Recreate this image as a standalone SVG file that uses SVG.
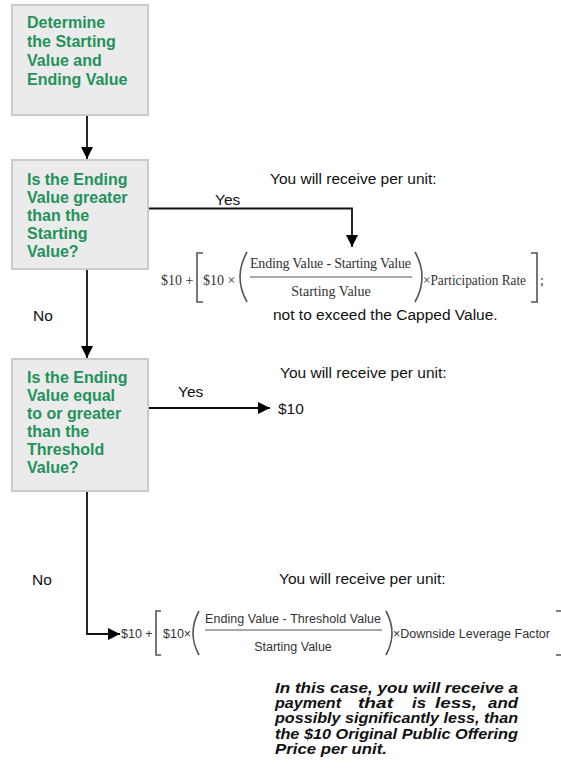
<svg xmlns="http://www.w3.org/2000/svg" width="561" height="772" viewBox="0 0 561 772">
<defs>
<marker id="ah" markerWidth="13" markerHeight="13" refX="12" refY="6.5" orient="auto" markerUnits="userSpaceOnUse">
<path d="M0,0.5 L12,6.5 L0,12.5 Z" fill="#000"/>
</marker>
<style>
.box{fill:#ebebeb;stroke:#cbcbcb;stroke-width:2}
.bt{font-family:"Liberation Sans",Arial,sans-serif;font-weight:bold;font-size:16px;fill:#23925a}
.lbl{font-family:"Liberation Sans",Arial,sans-serif;font-size:15.5px;fill:#111}
.conn{fill:none;stroke:#111;stroke-width:1.8}
.ser{font-family:"Liberation Serif","Times New Roman",serif;font-size:14px;fill:#333}
.san{font-family:"Liberation Sans",Arial,sans-serif;font-size:12.5px;fill:#333}
.br{fill:none;stroke:#555;stroke-width:1.6}
.fl{stroke:#555;stroke-width:1.2}
.it{font-family:"Liberation Sans",Arial,sans-serif;font-size:14px;font-weight:bold;font-style:italic;fill:#111}
</style>
</defs>
<rect width="561" height="772" fill="#fff"/>

<g id="connectors">
<path class="conn" d="M87,115 V159" marker-end="url(#ah)"/>
<path class="conn" d="M87,269 V358" marker-end="url(#ah)"/>
<path class="conn" d="M148,208.5 H352 V247" marker-end="url(#ah)"/>
<path class="conn" d="M148,408 H270" marker-end="url(#ah)"/>
<path class="conn" d="M87,491 V634 H120" marker-end="url(#ah)"/>
<text class="lbl" x="215" y="205">Yes</text>
<text class="lbl" x="33" y="321">No</text>
<text class="lbl" x="178" y="397">Yes</text>
<text class="lbl" x="32" y="585">No</text>
</g>

<g id="node-start">
<rect class="box" x="12" y="5" width="136" height="110"/>
<text class="bt" x="27" y="28">Determine</text>
<text class="bt" x="27" y="47">the Starting</text>
<text class="bt" x="27" y="66">Value and</text>
<text class="bt" x="27" y="85">Ending Value</text>
</g>

<g id="node-q1">
<rect class="box" x="12" y="160" width="136" height="109"/>
<text class="bt" x="27" y="185">Is the Ending</text>
<text class="bt" x="27" y="203">Value greater</text>
<text class="bt" x="27" y="221">than the</text>
<text class="bt" x="27" y="239">Starting</text>
<text class="bt" x="27" y="257">Value?</text>
</g>

<g id="node-q2">
<rect class="box" x="12" y="359" width="136" height="132"/>
<text class="bt" x="27" y="383">Is the Ending</text>
<text class="bt" x="27" y="401">Value equal</text>
<text class="bt" x="27" y="419">to or greater</text>
<text class="bt" x="27" y="437">than the</text>
<text class="bt" x="27" y="455">Threshold</text>
<text class="bt" x="27" y="473">Value?</text>
</g>

<g id="result-1">
<text class="lbl" x="270" y="184">You will receive per unit:</text>
<text class="ser" x="161" y="285">$10 +</text>
<path class="br" d="M203,253 H197 V302 H203"/>
<text class="ser" x="203" y="285">$10 ×</text>
<path class="br" d="M247,252 Q233,277 247,302"/>
<text class="ser" x="250" y="268" textLength="161" lengthAdjust="spacing">Ending  Value - Starting  Value</text>
<line class="fl" x1="250" y1="277" x2="412" y2="277"/>
<text class="ser" x="331" y="296" text-anchor="middle">Starting  Value</text>
<path class="br" d="M415,252 Q429,277 415,302"/>
<text class="ser" x="423" y="285" textLength="103" lengthAdjust="spacingAndGlyphs">×Participation Rate</text>
<path class="br" d="M531,253 H537 V302 H531"/>
<text class="ser" x="540" y="285">;</text>
<text class="lbl" x="273" y="320">not to exceed the Capped Value.</text>
</g>

<g id="result-2">
<text class="lbl" x="280" y="378">You will receive per unit:</text>
<text class="lbl" x="278" y="414">$10</text>
</g>

<g id="result-3">
<text class="lbl" x="279" y="584">You will receive per unit:</text>
<text class="san" x="121" y="638">$10 +</text>
<path class="br" d="M161,611 H156 V655 H161"/>
<text class="san" x="163" y="638">$10×</text>
<path class="br" d="M199,611 Q187,633 199,655"/>
<text class="san" x="205" y="623" textLength="176" lengthAdjust="spacing">Ending Value - Threshold Value</text>
<line class="fl" x1="205" y1="630" x2="382" y2="630"/>
<text class="san" x="293" y="651" text-anchor="middle">Starting Value</text>
<path class="br" d="M386,611 Q398,633 386,655"/>
<text class="san" x="393" y="638" textLength="157" lengthAdjust="spacingAndGlyphs">×Downside Leverage Factor</text>
<path class="br" d="M556,611 H562 V655 H556"/>
</g>

<g id="note">
<text class="it" x="275" y="693" textLength="243" lengthAdjust="spacingAndGlyphs">In this case, you will receive a</text>
<text class="it" x="275" y="708" textLength="66" lengthAdjust="spacingAndGlyphs">payment</text>
<text class="it" x="358" y="708" textLength="35" lengthAdjust="spacingAndGlyphs">that</text>
<text class="it" x="412" y="708" textLength="14" lengthAdjust="spacingAndGlyphs">is</text>
<text class="it" x="435" y="708" textLength="42" lengthAdjust="spacingAndGlyphs">less,</text>
<text class="it" x="488" y="708" textLength="30" lengthAdjust="spacingAndGlyphs">and</text>
<text class="it" x="275" y="723" textLength="243" lengthAdjust="spacingAndGlyphs">possibly significantly less, than</text>
<text class="it" x="275" y="739" textLength="243" lengthAdjust="spacingAndGlyphs">the $10 Original Public Offering</text>
<text class="it" x="275" y="754" textLength="112" lengthAdjust="spacingAndGlyphs">Price per unit.</text>
</g>
</svg>
